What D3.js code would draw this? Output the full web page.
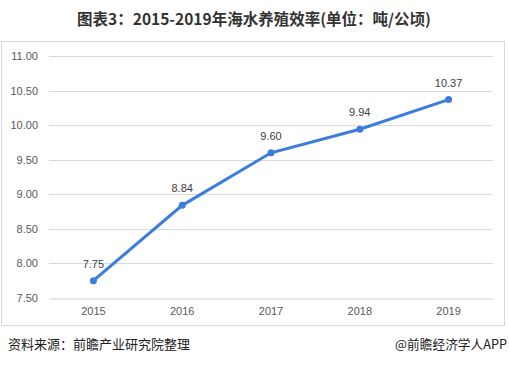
<!DOCTYPE html>
<html><head><meta charset="utf-8">
<script src="https://cdn.jsdelivr.net/npm/d3@7/dist/d3.min.js"></script>
<style>body{margin:0;background:#fff}svg{display:block}</style>
</head><body>
<svg id="c" width="509" height="365"></svg>
<script>
const years = ["2015","2016","2017","2018","2019"];
const values = [7.75, 8.84, 9.60, 9.94, 10.37];
const valueLabels = ["7.75","8.84","9.60","9.94","10.37"];
const yTicks = [7.5, 8.0, 8.5, 9.0, 9.5, 10.0, 10.5, 11.0];
const title = "图表3：2015-2019年海水养殖效率(单位：吨/公顷)";
const source = "资料来源：前瞻产业研究院整理";
const brand = "@前瞻经济学人APP";

const svg = d3.select("#c");
const font = "'Liberation Sans', Arial, 'Noto Sans CJK SC', sans-serif";
const cjk = "'Noto Sans CJK SC', 'Liberation Sans', sans-serif";

svg.append("rect").attr("x",1.5).attr("y",41.5).attr("width",503).attr("height",284)
  .attr("fill","#fff").attr("stroke","#d9d9d9");

svg.append("text").attr("x",254).attr("y",25).attr("text-anchor","middle")
  .attr("font-family",cjk).attr("font-weight","bold").attr("font-size",15.5).attr("fill","#333")
  .text(title);

const x = d3.scaleBand().domain(years).range([49,493]);
const y = d3.scaleLinear().domain([7.5,11]).range([298,56]);

const yAxis = d3.axisLeft(y).tickValues(yTicks).tickFormat(d3.format(".2f")).tickSize(0).tickPadding(11);
const gy = svg.append("g").attr("transform","translate(49,0)").call(yAxis);
gy.select(".domain").remove();
gy.selectAll("text").attr("font-family",font).attr("font-size",11).attr("fill","#595959");

svg.append("g").selectAll("line").data(yTicks.filter(d=>d>7.5)).join("line")
  .attr("x1",49).attr("x2",493).attr("y1",d=>Math.round(y(d))+0.5).attr("y2",d=>Math.round(y(d))+0.5)
  .attr("stroke","#d9d9d9");

const xAxis = d3.axisBottom(x).tickSize(0).tickPadding(9);
const gx = svg.append("g").attr("transform",`translate(0,${Math.round(y(7.5))+0.5})`).call(xAxis);
gx.select(".domain").attr("stroke","#d0d0d0");
gx.selectAll("text").attr("font-family",font).attr("font-size",11).attr("fill","#595959");

const cx = d => x(d) + x.bandwidth()/2;
const line = d3.line().x((d,i)=>cx(years[i])).y(d=>y(d));
svg.append("path").datum(values).attr("d",line).attr("fill","none")
  .attr("stroke","#3b7ddd").attr("stroke-width",3);
svg.append("g").selectAll("circle").data(values).join("circle")
  .attr("cx",(d,i)=>cx(years[i])).attr("cy",d=>y(d)).attr("r",3.5).attr("fill","#3b7ddd");
svg.append("g").selectAll("text").data(values).join("text")
  .attr("x",(d,i)=>cx(years[i])).attr("y",d=>y(d)-13).attr("text-anchor","middle")
  .attr("font-family",font).attr("font-size",11).attr("fill","#404040")
  .text((d,i)=>valueLabels[i]);

svg.append("text").attr("x",8).attr("y",349).attr("font-family",cjk).attr("font-size",13).attr("fill","#222")
  .text(source);
svg.append("text").attr("x",507).attr("y",349).attr("text-anchor","end").attr("font-family",cjk).attr("font-size",12.7).attr("fill","#222")
  .text(brand);
</script>
</body></html>
